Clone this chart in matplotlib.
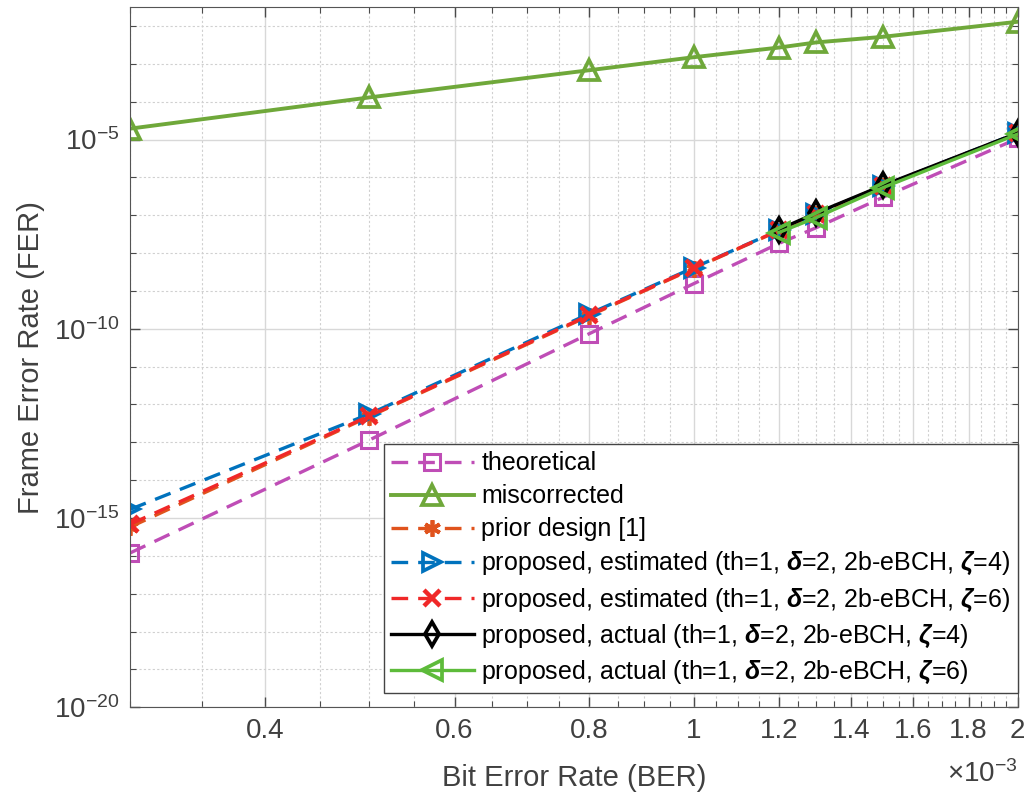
import numpy as np
import matplotlib
matplotlib.use("Agg")
import matplotlib.pyplot as plt
from matplotlib.ticker import FixedLocator, NullFormatter, FixedFormatter

plt.rcParams['font.family'] = ['Liberation Sans', 'DejaVu Sans']
plt.rcParams['mathtext.fontset'] = 'custom'
plt.rcParams['mathtext.rm'] = 'Liberation Sans'
plt.rcParams['mathtext.it'] = 'Liberation Sans:italic'
plt.rcParams['mathtext.bf'] = 'Liberation Sans:bold'
plt.rcParams['mathtext.bfit'] = 'Liberation Sans:italic:bold'

# BER values (x 1e-3)
ber = np.array([0.3, 0.5, 0.8, 1.0, 1.2, 1.3, 1.5, 2.0])
ber_actual = np.array([1.2, 1.3, 1.5, 2.0])

fer_theory = [1.2e-16, 1.15e-13, 7.4e-11, 1.55e-9, 1.8e-8, 4.7e-8, 3.0e-7, 1.07e-5]
fer_miscorr = [1.95e-5, 1.3e-4, 6.8e-4, 1.5e-3, 2.7e-3, 3.7e-3, 5.2e-3, 1.3e-2]
fer_prior = [5.8e-16, 4.8e-13, 2.2e-10, 3.9e-9, 3.9e-8, 1.1e-7, 5.9e-7, 1.45e-5]
fer_est4 = [1.7e-15, 5.6e-13, 2.5e-10, 4.1e-9, 4.0e-8, 1.1e-7, 6.0e-7, 1.5e-5]
fer_est6 = [6.9e-16, 5.0e-13, 2.3e-10, 4.0e-9, 4.0e-8, 1.1e-7, 6.0e-7, 1.45e-5]
fer_act4 = [4.2e-8, 1.15e-7, 6.2e-7, 1.5e-5]
fer_act6 = [3.5e-8, 8.7e-8, 5.4e-7, 1.4e-5]

d = r'$\mathbfit{\delta}$'
z = r'$\mathbfit{\zeta}$'
labels = ['theoretical', 'miscorrected', 'prior design [1]',
          'proposed, estimated (th=1, ' + d + '=2, 2b-eBCH, ' + z + '=4)',
          'proposed, estimated (th=1, ' + d + '=2, 2b-eBCH, ' + z + '=6)',
          'proposed, actual (th=1, ' + d + '=2, 2b-eBCH, ' + z + '=4)',
          'proposed, actual (th=1, ' + d + '=2, 2b-eBCH, ' + z + '=6)']

xtick_vals = [0.4, 0.6, 0.8, 1.0, 1.2, 1.4, 1.6, 1.8, 2.0]
xtick_labels = ['0.4', '0.6', '0.8', '1', '1.2', '1.4', '1.6', '1.8', '2']

fig = plt.figure(figsize=(10.26, 7.92), dpi=100)
ax = fig.add_axes([0.127, 0.107, 0.865, 0.884])

dash = (0, (5, 3))
lw = 2.4
ms = 12
mew = 2.2

ax.plot(ber, fer_theory, linestyle=dash, color='#BF4DB6', marker='s', mfc='none', ms=ms, mew=mew, lw=lw, label=labels[0])
ax.plot(ber, fer_miscorr, '-', color='#6FA83A', marker='^', mfc='none', ms=ms + 2, mew=mew + 0.5, lw=lw + 0.4, label=labels[1])
ax.plot(ber, fer_prior, linestyle=dash, color='#E0531D', marker=(6, 2, 0), ms=ms, mew=mew + 0.5, lw=lw, label=labels[2])
ax.plot(ber, fer_est4, linestyle=dash, color='#0072BD', marker='>', mfc='none', ms=ms + 1, mew=mew + 0.5, lw=lw, label=labels[3])
ax.plot(ber, fer_est6, linestyle=dash, color='#F02828', marker='x', ms=ms, mew=mew + 1, lw=lw, label=labels[4])
ax.plot(ber_actual, fer_act4, '-', color='black', marker='d', mfc='none', ms=ms, mew=mew + 0.5, lw=lw, label=labels[5])
ax.plot(ber_actual, fer_act6, '-', color='#5DBB3A', marker='<', mfc='none', ms=ms + 2, mew=mew + 0.5, lw=lw, label=labels[6])

ax.set_xscale('log')
ax.set_yscale('log')
ax.set_xlim(0.3, 2.0)
ax.set_ylim(1e-20, 10 ** -1.5)

ax.xaxis.set_major_locator(FixedLocator(xtick_vals))
ax.xaxis.set_major_formatter(FixedFormatter(xtick_labels))
ax.xaxis.set_minor_locator(FixedLocator(np.arange(0.3, 2.001, 0.05)))
ax.xaxis.set_minor_formatter(NullFormatter())

ax.yaxis.set_major_locator(FixedLocator([1e-20, 1e-15, 1e-10, 1e-5]))
ax.yaxis.set_major_formatter(FixedFormatter([r'$10^{-20}$', r'$10^{-15}$', r'$10^{-10}$', r'$10^{-5}$']))
ax.yaxis.set_minor_locator(FixedLocator([10.0 ** k for k in range(-19, -1)]))
ax.yaxis.set_minor_formatter(NullFormatter())

ax.grid(True, which='major', color='#d8d8d8', linestyle='-', linewidth=1)
ax.grid(True, which='minor', color='#d0d0d0', linestyle=(0, (2, 2)), linewidth=0.8)
ax.set_axisbelow(True)

ax.tick_params(which='both', direction='in', top=True, right=True, colors='#4a4a4a', labelcolor='#404040')
ax.tick_params(which='major', length=7, width=1, labelsize=20, pad=8)
ax.tick_params(which='minor', length=4, width=0.8)
for s in ax.spines.values():
    s.set_color('#555555')

ax.set_xlabel('Bit Error Rate (BER)', fontsize=21, color='#404040', labelpad=14)
ax.set_ylabel('Frame Error Rate (FER)', fontsize=21, color='#404040', labelpad=6)
ax.text(1.0, -0.075, r'$\times10^{-3}$', transform=ax.transAxes, ha='right', va='top', fontsize=20, color='#404040')

leg = ax.legend(loc='lower right', bbox_to_anchor=(1.0, 0.02), borderaxespad=0, fontsize=18,
                handlelength=3.3, labelspacing=0.36, handletextpad=0.3, borderpad=0.3,
                fancybox=False, framealpha=1, edgecolor='#444444')
leg.get_frame().set_linewidth(1)

fig.savefig('out.png', dpi=100)
